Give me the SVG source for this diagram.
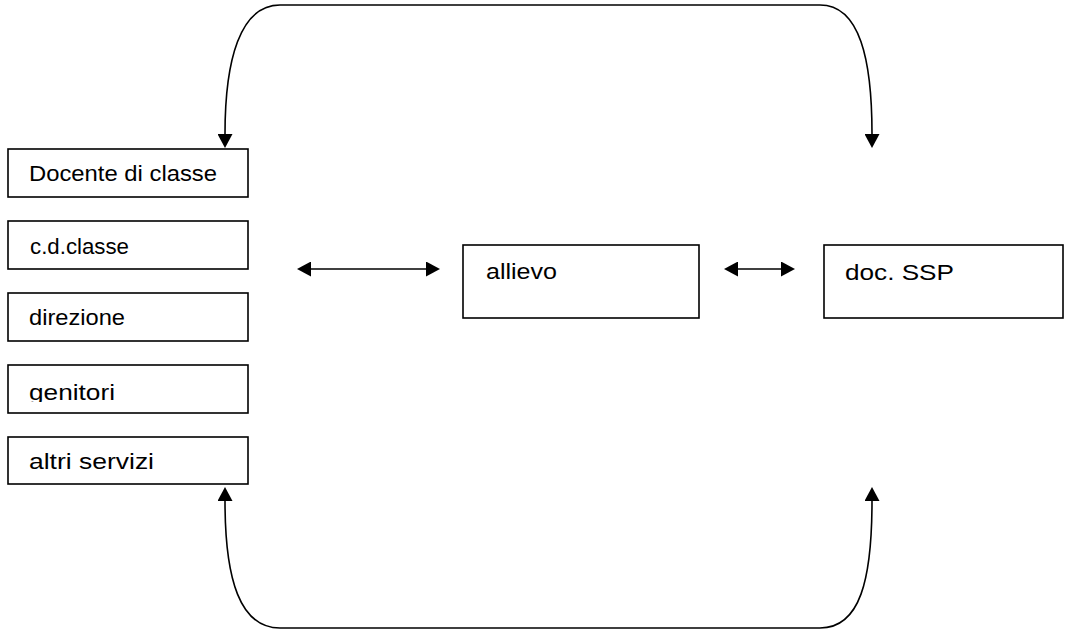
<svg xmlns="http://www.w3.org/2000/svg" width="1065" height="630" viewBox="0 0 1065 630">
<style>
.box{fill:#fff;stroke:#000;stroke-width:1.6}
.lbl{font-family:"Liberation Sans",Arial,sans-serif;font-size:22px;fill:#000}
.con{fill:none;stroke:#000;stroke-width:1.6}
</style>
<defs>
<marker id="ah" viewBox="0 0 14 15" refX="0" refY="7.5" markerWidth="14" markerHeight="15" markerUnits="userSpaceOnUse" orient="auto-start-reverse">
<path d="M0,0 L14,7.5 L0,15 z" fill="#000"/>
</marker>
<clipPath id="gclip"><rect x="8" y="366" width="240" height="36"/></clipPath>
</defs>
<rect width="1065" height="630" fill="#fff"/>
<g id="connectors">
<path class="con" d="M225 134 C225 60 240 5 280 5 L820 5 C860 5 872 60 872 134" marker-start="url(#ah)" marker-end="url(#ah)"/>
<path class="con" d="M225 501 C225 580 240 628 280 628 L820 628 C860 628 872 580 872 501" marker-start="url(#ah)" marker-end="url(#ah)"/>
<path class="con" d="M311 269 L426 269" marker-start="url(#ah)" marker-end="url(#ah)"/>
<path class="con" d="M738 269 L781 269" marker-start="url(#ah)" marker-end="url(#ah)"/>
</g>
<g id="docente">
<rect class="box" x="8" y="149" width="240" height="48"/>
<text class="lbl" x="29" y="181" textLength="188" lengthAdjust="spacingAndGlyphs">Docente di classe</text>
</g>
<g id="cdclasse">
<rect class="box" x="8" y="221" width="240" height="48"/>
<text class="lbl" x="30" y="254" font-size="20" textLength="99" lengthAdjust="spacingAndGlyphs">c.d.classe</text>
</g>
<g id="direzione">
<rect class="box" x="8" y="293" width="240" height="48"/>
<text class="lbl" x="29" y="325" font-size="20" textLength="96" lengthAdjust="spacingAndGlyphs">direzione</text>
</g>
<g id="genitori">
<rect class="box" x="8" y="365" width="240" height="48"/>
<text class="lbl" x="29" y="400" textLength="86" lengthAdjust="spacingAndGlyphs" clip-path="url(#gclip)">genitori</text>
</g>
<g id="altri">
<rect class="box" x="8" y="437" width="240" height="47"/>
<text class="lbl" x="29" y="469" textLength="125" lengthAdjust="spacingAndGlyphs">altri servizi</text>
</g>
<g id="allievo">
<rect class="box" x="463" y="245" width="236" height="73"/>
<text class="lbl" x="486" y="279" textLength="71" lengthAdjust="spacingAndGlyphs">allievo</text>
</g>
<g id="docssp">
<rect class="box" x="824" y="245" width="239" height="73"/>
<text class="lbl" x="845" y="280" textLength="109" lengthAdjust="spacingAndGlyphs">doc. SSP</text>
</g>
</svg>
